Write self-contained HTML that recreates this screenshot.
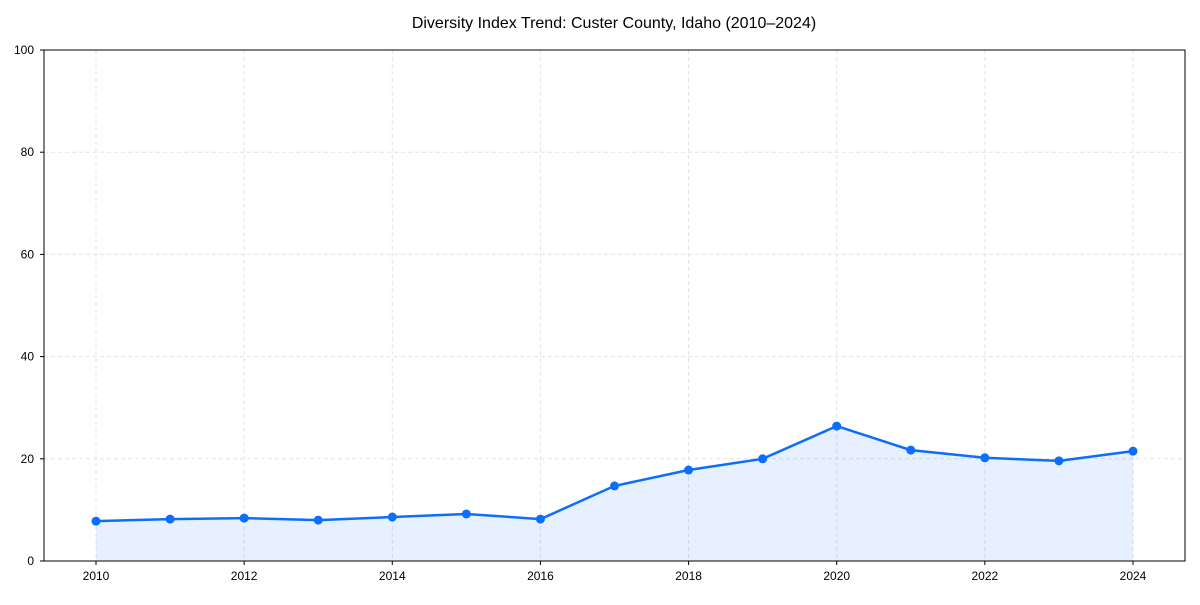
<!DOCTYPE html>
<html><head><meta charset="utf-8"><style>
body{margin:0;background:#fff;}
svg text{font-family:"Liberation Sans Narrow","Liberation Sans",Arial,sans-serif;fill:#000;}
</style></head><body>
<svg id="chart" width="1200" height="600" xmlns="http://www.w3.org/2000/svg">
<text x="614" y="28" font-size="16" text-anchor="middle">Diversity Index Trend: Custer County, Idaho (2010–2024)</text>
<g id="grid"></g>
<g id="ticks"></g>
<path id="area" fill="#0d6efd" fill-opacity="0.1"/>
<path id="line" fill="none" stroke="#0d6efd" stroke-width="2.5"/>
<g id="points"></g>
<rect x="44" y="50" width="1141" height="511" fill="none" stroke="#000" stroke-width="1"/>
</svg>
<script>
const years=[2010,2011,2012,2013,2014,2015,2016,2017,2018,2019,2020,2021,2022,2023,2024];
const values=[7.8,8.2,8.4,8.0,8.6,9.2,8.2,14.7,17.8,20.0,26.4,21.7,20.2,19.6,21.5];
const yTicks=[0,20,40,60,80,100];
const xTicks=[2010,2012,2014,2016,2018,2020,2022,2024];
const NS="http://www.w3.org/2000/svg";
const x=v=>96+(v-2010)*(1133-96)/14;
const y=v=>561-v*5.11;
function mk(tag,attrs,parent){const e=document.createElementNS(NS,tag);for(const k in attrs)e.setAttribute(k,attrs[k]);parent.appendChild(e);return e;}
const grid=document.getElementById('grid'),ticks=document.getElementById('ticks');
yTicks.forEach(t=>{
 const g=mk('line',{x1:44,x2:1185,y1:y(t),y2:y(t),stroke:'#e3e3e3','stroke-dasharray':'4,3'},grid);
 
 
 mk('line',{x1:40,x2:44,y1:y(t),y2:y(t),stroke:'#000'},ticks);
 const l=mk('text',{x:34,y:y(t)+4,'font-size':12,'text-anchor':'end'},ticks);l.textContent=t;
 
 
});
xTicks.forEach(t=>{
 const g=mk('line',{x1:x(t),x2:x(t),y1:50,y2:561,stroke:'#e3e3e3','stroke-dasharray':'4,3'},grid);
 
 
 mk('line',{x1:x(t),x2:x(t),y1:561,y2:565,stroke:'#000'},ticks);
 const l=mk('text',{x:x(t),y:580,'font-size':12,'text-anchor':'middle'},ticks);l.textContent=t;
 
 
});
let d='';years.forEach((yr,i)=>{d+=(i?'L':'M')+x(yr)+','+y(values[i]);});
document.getElementById('line').setAttribute('d',d);
document.getElementById('area').setAttribute('d',d+'L'+x(years[years.length-1])+','+y(0)+'L'+x(years[0])+','+y(0)+'Z');
const pts=document.getElementById('points');
years.forEach((yr,i)=>{
 const c=mk('circle',{cx:x(yr),cy:y(values[i]),r:4.5,fill:'#0d6efd'},pts);
 
 
});
</script>
</body></html>
